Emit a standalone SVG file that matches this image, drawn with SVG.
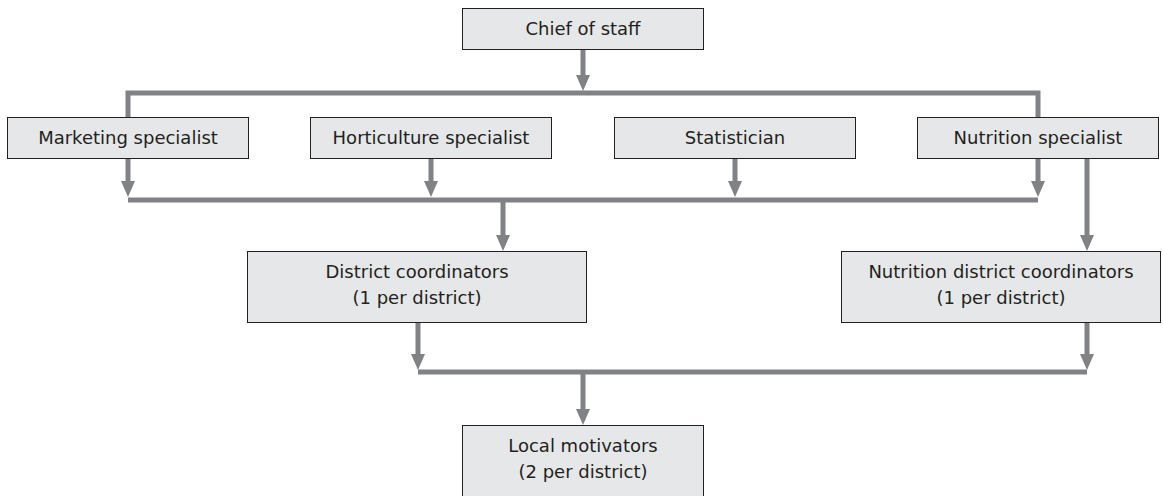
<svg xmlns="http://www.w3.org/2000/svg" width="1163" height="496" viewBox="0 0 1163 496">
  <style>
    .box { fill: #e6e7e8; stroke: #231f20; stroke-width: 1; }
    .lbl { font-family: "DejaVu Sans", "Liberation Sans", sans-serif; font-size: 18px; fill: #231f20; text-anchor: middle; }
    .conn { fill: none; stroke: #808285; stroke-width: 5; stroke-linejoin: miter; stroke-linecap: butt; }
  </style>
  <defs>
    <marker id="arr" viewBox="0 0 16 14" refX="6" refY="7" markerWidth="16" markerHeight="14" markerUnits="userSpaceOnUse" orient="auto">
      <path d="M0,0 L16,7 L0,14 z" fill="#808285"/>
    </marker>
  </defs>
  <rect width="1163" height="496" fill="#ffffff"/>

  <g id="connectors">
    <path class="conn" d="M583,50 V81" marker-end="url(#arr)"/>
    <path class="conn" d="M128,117 V93 H1038 V117"/>
    <path class="conn" d="M128,158 V187" marker-end="url(#arr)"/>
    <path class="conn" d="M431,158 V187" marker-end="url(#arr)"/>
    <path class="conn" d="M735,158 V187" marker-end="url(#arr)"/>
    <path class="conn" d="M1038,158 V187" marker-end="url(#arr)"/>
    <path class="conn" d="M128,200 H1038"/>
    <path class="conn" d="M503,202 V241" marker-end="url(#arr)"/>
    <path class="conn" d="M1087,158 V241" marker-end="url(#arr)"/>
    <path class="conn" d="M418,323 V360" marker-end="url(#arr)"/>
    <path class="conn" d="M1087,323 V360" marker-end="url(#arr)"/>
    <path class="conn" d="M418,372 H1087"/>
    <path class="conn" d="M583,374 V415" marker-end="url(#arr)"/>
  </g>

  <g id="chief">
    <rect class="box" x="462.5" y="8.5" width="241" height="41"/>
    <text class="lbl" x="583" y="35">Chief of staff</text>
  </g>
  <g id="marketing">
    <rect class="box" x="7.5" y="117.5" width="241" height="41"/>
    <text class="lbl" x="128" y="144">Marketing specialist</text>
  </g>
  <g id="horticulture">
    <rect class="box" x="310.5" y="117.5" width="241" height="41"/>
    <text class="lbl" x="431" y="144">Horticulture specialist</text>
  </g>
  <g id="statistician">
    <rect class="box" x="614.5" y="117.5" width="241" height="41"/>
    <text class="lbl" x="735" y="144">Statistician</text>
  </g>
  <g id="nutrition">
    <rect class="box" x="917.5" y="117.5" width="241" height="41"/>
    <text class="lbl" x="1038" y="144">Nutrition specialist</text>
  </g>
  <g id="district">
    <rect class="box" x="247.5" y="251.5" width="339" height="71"/>
    <text class="lbl" x="417" y="278">District coordinators</text>
    <text class="lbl" x="417" y="304">(1 per district)</text>
  </g>
  <g id="nutrition-district">
    <rect class="box" x="841.5" y="251.5" width="319" height="71"/>
    <text class="lbl" x="1001" y="278">Nutrition district coordinators</text>
    <text class="lbl" x="1001" y="304">(1 per district)</text>
  </g>
  <g id="local">
    <rect class="box" x="462.5" y="425.5" width="241" height="80"/>
    <text class="lbl" x="583" y="452">Local motivators</text>
    <text class="lbl" x="583" y="478">(2 per district)</text>
  </g>
</svg>
